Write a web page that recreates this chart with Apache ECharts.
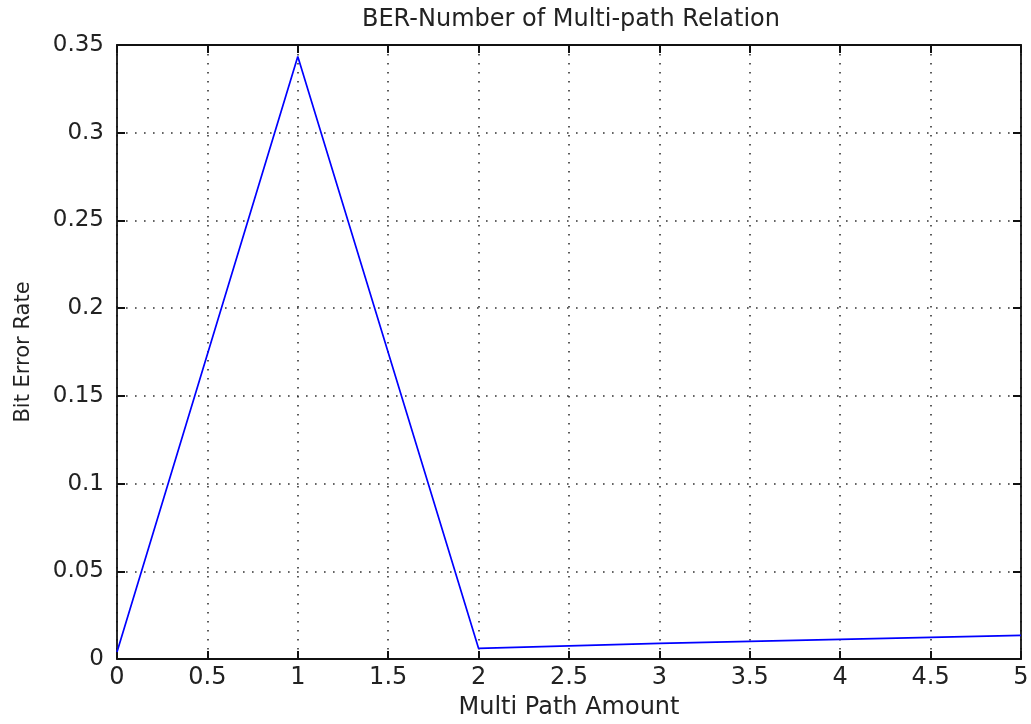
<!DOCTYPE html>
<html>
<head>
<meta charset="utf-8">
<script src="https://cdn.jsdelivr.net/npm/echarts@6/dist/echarts.min.js"></script>
<style>
  html, body { margin: 0; padding: 0; background: #fff; }
  #chart { width: 1031px; height: 724px; }
</style>
</head>
<body>
<div id="chart"></div>
<script>
// Number of multi-path components and the measured bit error rate
const pathCounts = [0, 1, 2, 3, 4, 5];
const bitErrorRates = [0.004, 0.3435, 0.006, 0.0089, 0.0112, 0.0135];

const FONT = '"DejaVu Sans", "Liberation Sans", sans-serif';
const TXT = '#222';

const chart = echarts.init(document.getElementById('chart'), null, { renderer: 'canvas' });

// fresh style objects for each axis
const dotted = () => ({ color: '#333', width: 1.6, type: [1.6, 7.4] });
const frameLine = () => ({ show: true, onZero: false, lineStyle: { color: '#111', width: 1.8 } });
const innerTick = () => ({ show: true, inside: true, length: 8, lineStyle: { color: '#111', width: 2 } });

chart.setOption({
  animation: false,
  backgroundColor: '#fff',
  title: {
    text: 'BER-Number of Multi-path Relation',
    left: 566, top: 3, textAlign: 'center',
    textStyle: { fontFamily: FONT, fontSize: 24, fontWeight: 'normal', color: TXT }
  },
  grid: { left: 117, right: 10, top: 45, bottom: 65, containLabel: false, outerBoundsMode: 'none' },
  xAxis: [
    {
      type: 'value', min: 0, max: 5, interval: 0.5,
      position: 'bottom',
      name: 'Multi Path Amount', nameLocation: 'middle', nameGap: 37,
      nameTextStyle: { fontFamily: FONT, fontSize: 24, color: TXT },
      axisLine: frameLine(), axisTick: innerTick(),
      axisLabel: { fontFamily: FONT, fontSize: 24, color: TXT, margin: 7 },
      splitLine: { show: true, lineStyle: dotted() }
    },
    {
      type: 'value', min: 0, max: 5, interval: 0.5,
      position: 'top',
      axisLine: frameLine(), axisTick: innerTick(),
      axisLabel: { show: false }, splitLine: { show: false }
    }
  ],
  yAxis: [
    {
      type: 'value', min: 0, max: 0.35, interval: 0.05,
      position: 'left',
      name: 'Bit Error Rate', nameLocation: 'middle', nameGap: 83, nameRotate: 90,
      nameTextStyle: { fontFamily: FONT, fontSize: 21, color: TXT },
      axisLine: frameLine(), axisTick: innerTick(),
      axisLabel: { fontFamily: FONT, fontSize: 23, color: TXT, margin: 13 },
      splitLine: { show: true, lineStyle: dotted() }
    },
    {
      type: 'value', min: 0, max: 0.35, interval: 0.05,
      position: 'right',
      axisLine: frameLine(), axisTick: innerTick(),
      axisLabel: { show: false }, splitLine: { show: false }
    }
  ],
  series: [{
    type: 'line',
    xAxisIndex: 0, yAxisIndex: 0,
    data: pathCounts.map((x, i) => [x, bitErrorRates[i]]),
    showSymbol: false,
    lineStyle: { color: '#0000ff', width: 1.7 },
    itemStyle: { color: '#0000ff' }
  }]
});
</script>
</body>
</html>
